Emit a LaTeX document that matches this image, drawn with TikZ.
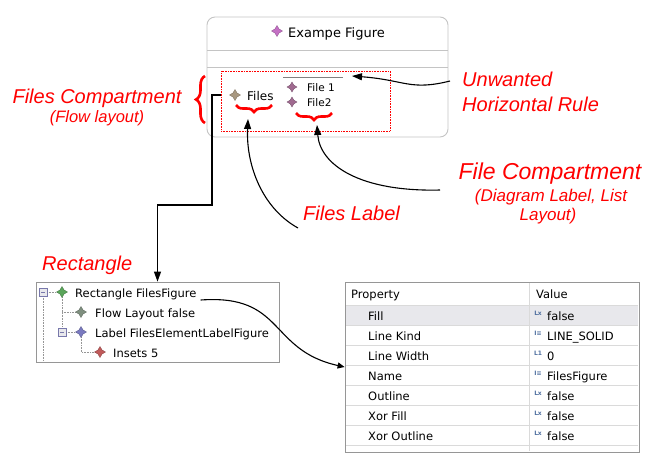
\documentclass[tikz,border=0pt]{standalone}
\usepackage{fontspec}
\setmainfont{Liberation Sans}
\newfontfamily\uifont{DejaVu Sans}
\usetikzlibrary{arrows.meta,decorations.pathreplacing,shapes.geometric}

\definecolor{annot}{RGB}{255,0,0}
\definecolor{panelgray}{RGB}{196,196,196}
\definecolor{boxgray}{RGB}{150,150,150}
\definecolor{rowgray}{RGB}{218,218,218}
\definecolor{selgray}{RGB}{232,232,236}
\definecolor{icopink}{RGB}{196,112,196}
\definecolor{icotan}{RGB}{168,152,128}
\definecolor{icomauve}{RGB}{160,106,144}
\definecolor{icogreen}{RGB}{90,165,90}
\definecolor{icosage}{RGB}{127,143,127}
\definecolor{icoblue}{RGB}{122,122,192}
\definecolor{icored}{RGB}{192,90,90}
\definecolor{glyphblue}{RGB}{80,112,160}

\newcommand{\boolglyph}{L\kern-0.4pt x}
\newcommand{\listglyph}{I≡}
\newcommand{\numglyph}{L1}

\tikzset{
  note/.style={text=annot, inner sep=0pt, font=\fontsize{20}{23}\selectfont\itshape},
  subnote/.style={text=annot, inner sep=0pt, font=\fontsize{17}{20}\selectfont\itshape},
  uitext/.style={inner sep=0pt, anchor=base west, font=\uifont\fontsize{11.5}{14}\selectfont},
  icon/.style={star, star points=4, star point ratio=1.9, minimum size=11pt,
    inner sep=0pt, fill=#1, draw=#1!70!black, line width=0.3pt},
  panel/.style={draw=panelgray, line width=0.9pt},
  framebox/.style={draw=boxgray, line width=0.8pt, inner sep=0pt},
  treeline/.style={draw=boxgray, densely dotted, line width=0.6pt},
  rowline/.style={draw=rowgray, line width=0.7pt},
  minusbox/.style={draw=boxgray!80!blue, fill=selgray, minimum size=8pt, inner sep=0pt,
    path picture={\draw[line width=0.8pt] ([xshift=-2pt]path picture bounding box.center)
      -- ([xshift=2pt]path picture bounding box.center);}},
  valicon/.style={text=glyphblue, inner sep=0pt, font=\uifont\fontsize{6}{6}\selectfont\bfseries},
  redbrace/.style={decorate, decoration={brace, amplitude=#1}, draw=annot, line width=2.6pt},
  conn/.style={line width=1.1pt, -{Triangle[length=10pt,width=7pt]}}
}

\begin{document}
\begin{tikzpicture}[x=1pt,y=-1pt]
\useasboundingbox (0,0) rectangle (664,467);
% the example figure
\draw[panel, rounded corners=8pt] (207,17) rectangle (448,137);
\draw[panel] (207,50) -- (448,50);
\draw[panel] (207,67) -- (448,67);
\node[icon=icopink] (titleicon) at (277,31) {};
\node[uitext, font=\uifont\fontsize{13}{15}\selectfont] (title) at (288,37) {Exampe Figure};
\node[draw=annot, densely dotted, line width=0.6pt, minimum width=169pt, minimum height=60pt,
  inner sep=0pt] (dotbox) at (305.5,101) {};
\node[icon=icotan] (filesicon) at (235,95) {};
\node[uitext, font=\uifont\fontsize{12}{14}\selectfont] (filestxt) at (247,100) {Files};
\draw[gray, line width=0.8pt] (283,77) -- (343,77);
\coordinate (rule) at (352,76);
\node[icon=icomauve, minimum size=10pt] (fileoneicon) at (292,87) {};
\node[uitext, font=\uifont\fontsize{10.5}{12}\selectfont] (fileone) at (307,91) {File 1};
\node[icon=icomauve, minimum size=10pt] (filetwoicon) at (292,102) {};
\node[uitext, font=\uifont\fontsize{10.5}{12}\selectfont] (filetwo) at (307,106) {File2};
% braces
\draw[redbrace=9pt] (205,123) -- (205,76);
\draw[redbrace=7pt] (272,105) -- (236,105);
\draw[redbrace=7pt] (332,113) -- (296,113);
\coordinate (filesbrace) at (248,119);
\coordinate (filebrace) at (317,125);

% annotations
\node[note, anchor=base] (filescomp) at (97,103) {Files Compartment};
\node[subnote, font=\fontsize{16.5}{19}\selectfont\itshape, anchor=base] (flowlay) at (97,122) {(Flow layout)};
\node[note, anchor=base west] (unwanted) at (462,86) {Unwanted};
\node[note, anchor=base west] (hrule) at (462,111) {Horizontal Rule};
\node[note, font=\fontsize{23}{26}\selectfont\itshape, anchor=base] (filecomp) at (550,179) {File Compartment};
\node[subnote, anchor=base] (diaglbl) at (551,201) {(Diagram Label, List};
\node[subnote, anchor=base] (listlay) at (548,220) {Layout)};
\node[note, anchor=base west] (fileslbl) at (303,220) {Files Label};
\node[note, anchor=base west] (rectlbl) at (42,270) {Rectangle};

% tree
\node[framebox, minimum width=243pt, minimum height=80pt] (treebox) at (157.5,322) {};
\draw[treeline] (43,296) -- (43,361);
\draw[treeline] (47,292) -- (57,292);
\draw[treeline] (62,297) -- (62,327);
\draw[treeline] (62,312) -- (76,312);
\draw[treeline] (66,332) -- (76,332);
\draw[treeline] (81,337) -- (81,352) -- (95,352);
\node[minusbox] (minusa) at (43,292) {};
\node[minusbox] (minusb) at (62,332) {};
\node[icon=icogreen] (rectico) at (62,292) {};
\node[uitext] (rectnode) at (75,297) {Rectangle FilesFigure};
\node[icon=icosage] (flowico) at (81,312) {};
\node[uitext] (flownode) at (95,317) {Flow Layout false};
\node[icon=icoblue] (labelico) at (81,332) {};
\node[uitext] (labelnode) at (95,337) {Label FilesElementLabelFigure};
\node[icon=icored] (insetico) at (100,352) {};
\node[uitext] (insetnode) at (113,357) {Insets 5};

% property table
\fill[selgray] (346,305) rectangle (638,325);
\node[framebox, minimum width=294pt, minimum height=170pt] (proptbl) at (492,367) {};
\draw[rowline] (346,305) -- (638,305) (346,325) -- (638,325) (346,345) -- (638,345)
  (346,365) -- (638,365) (346,385) -- (638,385) (346,405) -- (638,405)
  (346,425) -- (638,425) (346,445) -- (638,445);
\draw[rowline] (529,283) -- (529,451);
\node[uitext] (prophead) at (351,298) {Property};
\node[uitext] (valhead) at (536,298) {Value};
\node[uitext] (pfill) at (368,320) {Fill};
\node[uitext] (pkind) at (368,340) {Line Kind};
\node[uitext] (pwidth) at (368,360) {Line Width};
\node[uitext] (pname) at (368,380) {Name};
\node[uitext] (poutline) at (368,400) {Outline};
\node[uitext] (pxfill) at (368,420) {Xor Fill};
\node[uitext] (pxout) at (368,440) {Xor Outline};
\node[valicon] (ifill) at (538,313) {\boolglyph};
\node[valicon] (ikind) at (538,333) {\listglyph};
\node[valicon] (iwidth) at (538,353) {\numglyph};
\node[valicon] (iname) at (538,373) {\listglyph};
\node[valicon] (ioutline) at (538,393) {\boolglyph};
\node[valicon] (ixfill) at (538,413) {\boolglyph};
\node[valicon] (ixout) at (538,433) {\boolglyph};
\node[uitext] (vfill) at (547,320) {false};
\node[uitext] (vkind) at (547,340) {LINE\_SOLID};
\node[uitext] (vwidth) at (547,360) {0};
\node[uitext] (vname) at (547,380) {FilesFigure};
\node[uitext] (voutline) at (547,400) {false};
\node[uitext] (vxfill) at (547,420) {false};
\node[uitext] (vxout) at (547,440) {false};

% connectors
\coordinate (bend) at (212,205);
\draw[conn] (dotbox.west |- filesicon) -| (bend) -| (treebox.north);
\draw[conn] ([xshift=-12pt,yshift=5pt]unwanted.base west) .. controls (410,91) and (405,80) .. (rule);
\draw[conn] (440,190) .. controls (360,192) and (320,165) .. (filebrace);
\draw[conn] ([xshift=-5pt,yshift=-8pt]fileslbl.base west) .. controls (262,208) and (246,165) .. (filesbrace);
\draw[conn, -{Triangle[length=7pt,width=6pt]}] ([xshift=4pt,yshift=-3pt]rectnode.base east)
  .. controls (285,294) and (268,350) .. (proptbl.west);
\end{tikzpicture}
\end{document}
